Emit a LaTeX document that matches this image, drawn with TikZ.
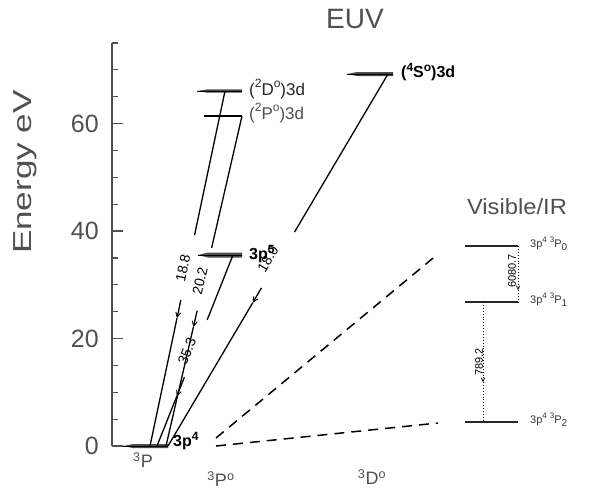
\documentclass[tikz,border=0pt]{standalone}
\usepackage{fontspec}
\setmainfont{Liberation Sans}
\usetikzlibrary{arrows.meta,calc}
\definecolor{txtgray}{RGB}{80,80,80}
\newcommand\hsup[1]{\raisebox{0.42em}{\fontsize{12}{12}\selectfont #1}}
\newcommand\lsup[1]{\raisebox{0.42em}{\fontsize{8}{8}\selectfont #1}}
\newcommand\lsub[1]{\raisebox{-0.3em}{\fontsize{10}{10}\selectfont #1}}
\newcommand\wlev[4]{%
  \fill[black!70] (#1,#3) -- (#1+10,#3-#4) -- (#2,#3-#4) -- (#2,#3+#4) -- (#1+10,#3+#4) -- cycle;
  \draw[line width=0.6pt] (#1,#3) -- (#2,#3);}
\begin{document}
\begin{tikzpicture}[x=1pt,y=-1pt,
  em/.style={line width=1.3pt, black},
  tip/.style={-{Straight Barb[length=5pt,width=5pt,line width=0.9pt]}},
  small tip/.style={-{Straight Barb[length=3.5pt,width=3.5pt,line width=0.7pt]}},
  num/.style={font=\fontsize{14}{14}\selectfont, inner sep=0pt, black},
  gtext/.style={txtgray, inner sep=0pt},
  lvl/.style={font=\fontsize{17}{17}\selectfont, inner sep=0pt, anchor=west},
  vis/.style={font=\fontsize{11}{11}\selectfont, inner sep=0pt, anchor=west, black!80},
  dashline/.style={line width=1.5pt, dash pattern=on 10pt off 7pt},
  vlev/.style={line width=1.2pt, black!85}
]
\useasboundingbox (0,0) rectangle (598,499);

% axis
\draw[txtgray, line width=1.3pt] (112,43) -- (112,446);
\foreach \e in {0,5,...,75}{
  \draw[txtgray, line width=1.2pt] (112,{446-5.373*\e}) -- ++(6,0);
}
\foreach \e in {0,20,40,60}{
  \draw[txtgray, line width=1.2pt] (112,{446-5.373*\e}) -- ++(11,0);
  \node[gtext, anchor=east, font=\fontsize{25}{25}\selectfont] at (99,{446-5.373*\e}) {\e};
}
\node[gtext, rotate=90, font=\fontsize{26}{26}\selectfont] (elab) at (25,172) {\scalebox{1.35}[1]{Energy eV}};
\node[gtext, font=\fontsize{28}{28}\selectfont] (euv) at (355,19) {EUV};
\node[gtext, font=\fontsize{22}{22}\selectfont] (vislab) at (517,207) {\scalebox{1.08}[1]{Visible/IR}};

% EUV levels
\wlev{123}{168}{446}{2}
\wlev{198}{242}{255}{2.5}
\wlev{197}{242}{91}{1.6}
\draw[line width=1.2pt] (204,116) -- (242,116);
\wlev{347}{393}{74}{2}

\node[lvl, font=\bfseries\fontsize{16}{16}\selectfont] (p4) at (173,441) {3p\hsup{4}};
\node[lvl, font=\bfseries\fontsize{16}{16}\selectfont] (p5) at (249,254) {3p\hsup{5}};
\node[lvl, black!85] (D3d) at (249,89) {(\hsup{2}D\hsup{o})3d};
\node[lvl, txtgray] (P3d) at (249,113) {(\hsup{2}P\hsup{o})3d};
\node[lvl, font=\bfseries\fontsize{16}{16}\selectfont] (S3d) at (401,72) {(\hsup{4}S\hsup{o})3d};

\node[gtext, font=\fontsize{18}{18}\selectfont] (tP) at (143,460) {\textsuperscript{3}P};
\node[gtext, font=\fontsize{18}{18}\selectfont] (tPo) at (221,479) {\textsuperscript{3}P\textsuperscript{o}};
\node[gtext, font=\fontsize{18}{18}\selectfont] (tDo) at (372,477) {\textsuperscript{3}D\textsuperscript{o}};

% transition end points
\coordinate (Dtop) at (225,91);  \coordinate (g1) at (150,446);
\coordinate (Ptop) at (242,116); \coordinate (g3) at (166,446);
\coordinate (p5top) at (233,255); \coordinate (g2) at (157,446);
\coordinate (Stop) at (388,74);  \coordinate (g4) at (168,446);

% 18.8
\draw[em] (Dtop) -- ($(Dtop)!0.406!(g1)$);
\draw[em,tip] ($(Dtop)!0.589!(g1)$) -- ($(Dtop)!0.64!(g1)$);
\draw[em] ($(Dtop)!0.64!(g1)$) -- (g1);
\node[num, rotate=78] (l188) at (183,268) {18.8};
% 20.2
\draw[em] (Ptop) -- ($(Ptop)!0.4!(g3)$);
\draw[em,tip] ($(Ptop)!0.59!(g3)$) -- ($(Ptop)!0.64!(g3)$);
\draw[em] ($(Ptop)!0.64!(g3)$) -- (g3);
\node[num, rotate=77] (l202) at (200,281) {20.2};
% 35.3
\draw[em] (p5top) -- ($(p5top)!0.34!(g2)$);
\draw[em,tip] ($(p5top)!0.64!(g2)$) -- ($(p5top)!0.74!(g2)$);
\draw[em] ($(p5top)!0.74!(g2)$) -- (g2);
\node[num, rotate=68] (l353) at (187,351) {35.3};
% 18.0
\draw[em] (Stop) -- ($(Stop)!0.425!(g4)$);
\draw[em,tip] ($(Stop)!0.575!(g4)$) -- ($(Stop)!0.615!(g4)$);
\draw[em] ($(Stop)!0.615!(g4)$) -- (g4);
\node[num, rotate=59] (l180) at (268,259) {18.0};

% dashed correspondence lines
\coordinate (dA) at (216,438); \coordinate (dB) at (438,254);
\coordinate (dC) at (216,446); \coordinate (dD) at (438,423);
\draw[dashline] (dA) -- (dB);
\draw[dashline] (dC) -- (dD);

% visible/IR levels
\coordinate (v0a) at (465,246); \coordinate (v0b) at (518,246);
\coordinate (v1a) at (465,302); \coordinate (v1b) at (518,302);
\coordinate (v2a) at (465,422); \coordinate (v2b) at (518,422);
\draw[vlev] (v0a) -- (v0b);
\draw[vlev] (v1a) -- (v1b);
\draw[vlev] (v2a) -- (v2b);
\coordinate (t1) at (483,302); \coordinate (t1m) at (483,382); \coordinate (t1e) at (483,422);
\draw[dotted, line width=0.9pt, small tip] (t1) -- (t1m);
\draw[dotted, line width=0.9pt] (t1m) -- (t1e);
\node[num, rotate=90, font=\fontsize{11}{11}\selectfont] (l789) at (479,362) {789.2};
\coordinate (t0m) at (518,290);
\draw[dotted, line width=0.9pt, small tip] (v0b) -- (t0m);
\draw[dotted, line width=0.9pt] (t0m) -- (v1b);
\node[num, rotate=90, font=\fontsize{11}{11}\selectfont] (l6080) at (512,271) {6080.7};

\node[vis] (n0) at (530,244) {3p\lsup{4} \lsup{3}P\lsub{0}};
\node[vis] (n1) at (530,300) {3p\lsup{4} \lsup{3}P\lsub{1}};
\node[vis] (n2) at (530,420) {3p\lsup{4} \lsup{3}P\lsub{2}};
\end{tikzpicture}
\end{document}
